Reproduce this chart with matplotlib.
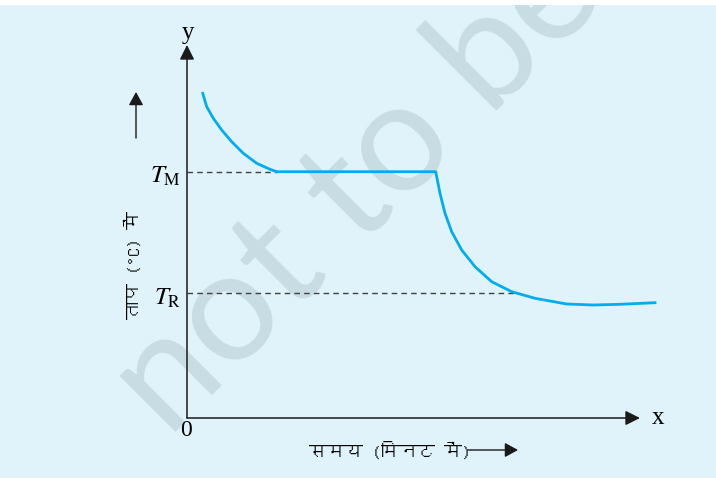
import matplotlib
matplotlib.use('Agg')
import matplotlib.pyplot as plt
from matplotlib import font_manager as fm
from matplotlib.ft2font import FT2Font
from matplotlib.patches import Rectangle

# data (time in arbitrary minutes, temperature in arbitrary units)
time = [1.57, 1.97, 2.63, 3.47, 4.47, 5.63, 6.97, 8.3, 8.97, 24.87, 25.3, 25.8,
        26.47, 27.47, 28.8, 30.47, 32.47, 34.8, 37.97, 40.6, 43.3, 46.8]
temp = [32.47, 31.13, 29.97, 28.8, 27.63, 26.47, 25.47, 24.87, 24.63, 24.63,
        22.47, 20.47, 18.63, 16.8, 15.13, 13.63, 12.63, 11.97, 11.4, 11.3,
        11.37, 11.53]
t_melt = 24.63
t_room = 12.5
t_melt_end = 8.97
t_room_end = 32.8
x_max = 45.3
y_max = 37.3

xlabel = 'समय (मिनट में)'
ylabel = 'ताप (°C) में'
watermark = 'not to be'


# pick a font that has Devanagari glyphs, if there is one
def find_family(ch):
    for f in fm.fontManager.ttflist:
        try:
            if ord(ch) in FT2Font(f.fname).get_charmap():
                return f.name
        except Exception:
            pass
    return None

deva = find_family('स')
hindi_family = [deva, 'DejaVu Sans'] if deva else ['DejaVu Sans']

plt.rcParams['mathtext.fontset'] = 'stix'

bg = '#e0f2fa'
fig = plt.figure(figsize=(7.16, 4.78), dpi=100, facecolor=bg)
fig.patches.append(Rectangle((0, 473 / 478), 1, 5 / 478, transform=fig.transFigure,
                             facecolor='white', edgecolor='none', zorder=0))

# one data unit = 10 px, origin at the axes corner
ax = fig.add_axes([0, 0, 1, 1])
ax.set_xlim(-18.7, 52.9)
ax.set_ylim(-6.0, 41.8)
ax.axis('off')

# watermark
ax.text(-1.9, -2.1, watermark, rotation=45, rotation_mode='anchor',
        ha='left', va='baseline', fontsize=112, family='Lato',
        color='#c8dce4', zorder=1)

# axes with arrows
arrow = dict(arrowstyle='-|>,head_length=0.4,head_width=0.2', color='#1a1a1a',
             lw=1.1, shrinkA=0, shrinkB=0, mutation_scale=22)
ax.annotate('', xy=(x_max, 0), xytext=(0, 0), arrowprops=arrow, zorder=3)
ax.annotate('', xy=(0, y_max), xytext=(0, 0), arrowprops=arrow, zorder=3)

# dashed guides
ax.plot([0, t_melt_end], [t_melt, t_melt], color='#404040', lw=1.0,
        linestyle=(0, (4, 3)), zorder=2)
ax.plot([0, t_room_end], [t_room, t_room], color='#404040', lw=1.0,
        linestyle=(0, (4, 3)), zorder=2)

# cooling curve
ax.plot(time, temp, color='#00aeef', lw=2.0, solid_joinstyle='round', zorder=4)

# labels
serif = 'Liberation Serif'
ax.text(-0.6, 23.5, r'$T_{\mathrm{M}}$', ha='right', va='baseline', fontsize=18)
ax.text(-0.6, 11.3, r'$T_{\mathrm{R}}$', ha='right', va='baseline', fontsize=18)
ax.text(0.1, 38.5, 'y', ha='center', va='center', fontsize=18, family=serif)
ax.text(47.1, 0.0, 'x', ha='center', va='center', fontsize=18, family=serif)
ax.text(-0.1, -1.3, '0', ha='center', va='center', fontsize=17, family=serif)

ax.text(20.3, -3.3, xlabel, ha='center', va='center', fontsize=13,
        family=hindi_family)
ax.text(-5.4, 15.3, ylabel, ha='center', va='center', fontsize=13,
        rotation=90, family=hindi_family)

small_arrow = dict(arrowstyle='-|>,head_length=0.4,head_width=0.22', color='#1a1a1a',
                   lw=1.0, shrinkA=0, shrinkB=0, mutation_scale=20)
ax.annotate('', xy=(33.1, -3.2), xytext=(28.1, -3.2), arrowprops=small_arrow)
ax.annotate('', xy=(-5.1, 32.6), xytext=(-5.1, 28.0), arrowprops=small_arrow)

fig.savefig('out.png', dpi=100, facecolor=bg)
